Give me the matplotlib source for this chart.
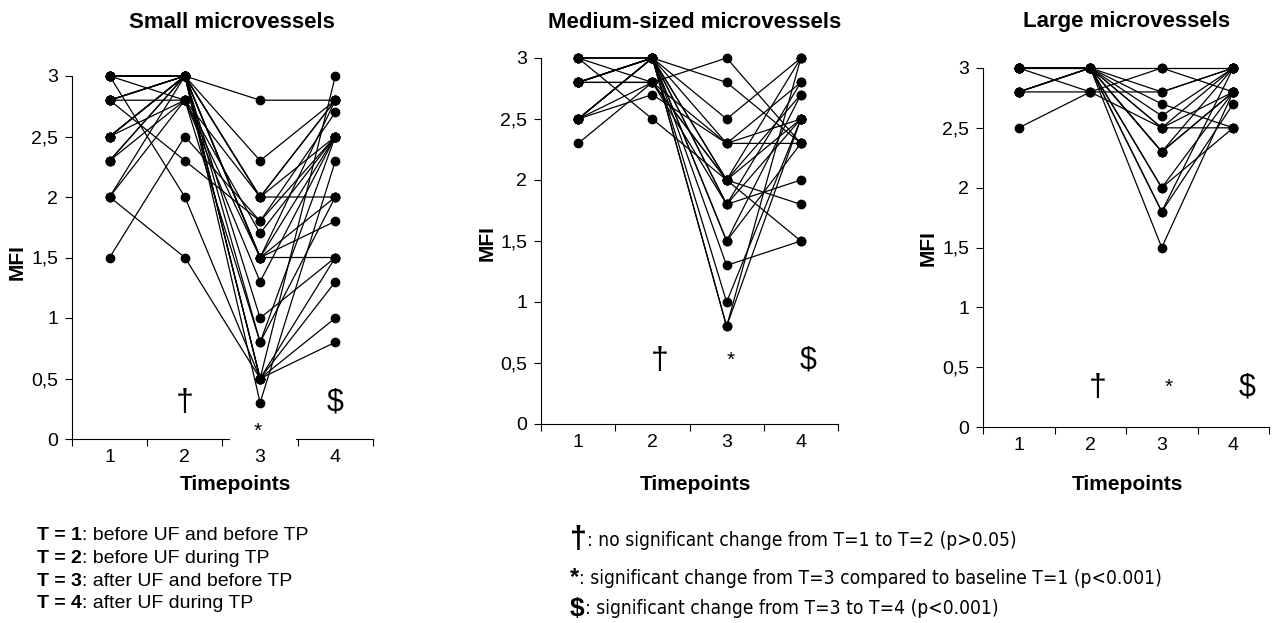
import numpy as np
import matplotlib.pyplot as plt
from matplotlib import font_manager
from matplotlib.patches import Rectangle

plt.rcParams['font.family'] = ['Liberation Sans', 'DejaVu Sans']

# timepoints
timepoints = [1, 2, 3, 4]
ytick_vals = [0, 0.5, 1, 1.5, 2, 2.5, 3]
ytick_labels = ['0', '0,5', '1', '1,5', '2', '2,5', '3']

# MFI per patient (T1, T2, T3, T4), small microvessels
small = [
    [3.0, 3.0, 2.8, 2.8],
    [3.0, 2.8, 2.0, 2.0],
    [3.0, 2.0, 0.5, 1.5],
    [2.8, 3.0, 2.3, 2.8],
    [2.8, 2.8, 1.5, 2.5],
    [2.8, 2.3, 1.8, 2.5],
    [2.5, 3.0, 2.0, 2.8],
    [2.5, 3.0, 1.5, 2.0],
    [2.5, 2.8, 1.7, 2.5],
    [2.3, 3.0, 1.5, 2.8],
    [2.3, 2.8, 1.3, 2.5],
    [2.0, 3.0, 1.0, 1.5],
    [2.0, 1.5, 0.5, 1.3],
    [1.5, 2.5, 1.8, 2.7],
    [3.0, 3.0, 2.0, 2.5],
    [2.8, 3.0, 1.5, 1.5],
    [2.5, 3.0, 0.8, 2.5],
    [3.0, 3.0, 0.5, 1.0],
    [2.8, 3.0, 0.5, 0.8],
    [2.5, 3.0, 0.3, 2.3],
    [3.0, 3.0, 1.5, 1.8],
    [2.8, 3.0, 0.5, 3.0],
    [2.3, 3.0, 2.0, 2.8],
    [2.0, 2.8, 0.8, 2.0],
]

# medium-sized microvessels
medium = [
    [3.0, 3.0, 2.0, 3.0],
    [3.0, 2.5, 2.0, 1.5],
    [2.8, 3.0, 2.8, 2.3],
    [2.8, 2.8, 3.0, 2.3],
    [2.8, 3.0, 2.5, 3.0],
    [2.8, 3.0, 1.8, 2.0],
    [2.5, 3.0, 2.3, 2.3],
    [2.5, 2.8, 2.0, 2.7],
    [2.5, 2.7, 2.3, 2.8],
    [2.5, 3.0, 1.5, 2.7],
    [2.3, 2.8, 1.8, 2.5],
    [2.8, 3.0, 1.3, 1.5],
    [3.0, 3.0, 1.0, 2.5],
    [2.5, 3.0, 0.8, 3.0],
    [2.8, 3.0, 0.8, 2.5],
    [3.0, 2.8, 2.0, 1.8],
    [2.8, 3.0, 2.0, 2.5],
    [2.5, 3.0, 1.8, 2.8],
    [2.8, 2.8, 2.3, 2.5],
    [3.0, 3.0, 1.5, 2.3],
]

# large microvessels
large = [
    [3.0, 3.0, 3.0, 3.0],
    [3.0, 2.8, 3.0, 2.8],
    [2.8, 2.8, 2.8, 3.0],
    [2.8, 3.0, 2.7, 2.5],
    [2.5, 2.8, 2.5, 2.5],
    [3.0, 3.0, 2.6, 3.0],
    [3.0, 3.0, 2.5, 2.8],
    [3.0, 3.0, 2.3, 3.0],
    [2.8, 3.0, 2.3, 2.8],
    [3.0, 3.0, 2.0, 2.8],
    [3.0, 3.0, 1.8, 3.0],
    [2.8, 3.0, 1.8, 2.7],
    [3.0, 3.0, 1.5, 2.8],
    [3.0, 3.0, 2.8, 3.0],
    [3.0, 3.0, 2.5, 3.0],
    [2.8, 3.0, 2.0, 2.5],
    [3.0, 3.0, 2.3, 2.8],
]

t_desc = ['before UF and before TP', 'before UF during TP',
          'after UF and before TP', 'after UF during TP']
sig_symbols = ['†', '*', '$']
sig_desc = [': no significant change from T=1 to T=2 (p>0.05)',
            ': significant change from T=3 compared to baseline T=1 (p<0.001)',
            ': significant change from T=3 to T=4 (p<0.001)']

W, H = 1274, 623
fig = plt.figure(figsize=(W / 100, H / 100), dpi=100)

TICK_FS = 14
LAB_FS = 15


def px_axes(left, top, right, bottom):
    return fig.add_axes([left / W, 1 - bottom / H, (right - left) / W, (bottom - top) / H])


def draw_panel(ax, data, title_x, title, ylab_x, ylab_y, xlab_x):
    for row in data:
        ax.plot(timepoints, row, color='black', lw=0.9, marker='o', ms=6,
                mfc='black', mec='black', clip_on=False)
    ax.set_xlim(0.5, 4.5)
    ax.set_ylim(0, 3)
    ax.set_xticks([0.5, 1.5, 2.5, 3.5, 4.5])
    ax.set_xticklabels([])
    ax.set_xticks(timepoints, minor=True)
    ax.set_xticklabels([str(t) for t in timepoints], minor=True, fontsize=TICK_FS)
    ax.tick_params(axis='x', which='minor', length=0, pad=7)
    ax.tick_params(axis='x', which='major', length=5, direction='out')
    ax.set_yticks(ytick_vals)
    ax.set_yticklabels(ytick_labels, fontsize=TICK_FS)
    ax.tick_params(axis='y', length=5, direction='out', pad=5)
    for s in ['top', 'right']:
        ax.spines[s].set_visible(False)
    fig.text(title_x / W, 1 - 22 / H, title, ha='center', va='center',
             fontsize=16, fontweight='bold')
    fig.text(ylab_x / W, 1 - ylab_y / H, 'MFI', ha='center', va='center',
             rotation=90, fontsize=LAB_FS, fontweight='bold')
    fig.text(xlab_x / W, 1 - 484 / H, 'Timepoints', ha='center', va='center',
             fontsize=LAB_FS, fontweight='bold')


ax1 = px_axes(72, 76, 373, 439)
draw_panel(ax1, small, 232, 'Small microvessels', 17, 262, 235)
ax1.add_patch(Rectangle((2.6, -0.05), 0.88, 0.2, facecolor='white',
                        edgecolor='none', clip_on=False, zorder=5))
ax1.text(2.0, 0.3, '†', ha='center', va='center', fontsize=23)
ax1.text(2.97, 0.06, '*', ha='center', va='center', fontsize=15, zorder=6, clip_on=False)
ax1.text(4.0, 0.3, '$', ha='center', va='center', fontsize=22)

ax2 = px_axes(541, 58, 838, 424)
draw_panel(ax2, medium, 695, 'Medium-sized microvessels', 487, 243, 695)
ax2.text(2.1, 0.52, '†', ha='center', va='center', fontsize=23)
ax2.text(3.06, 0.52, '*', ha='center', va='center', fontsize=15)
ax2.text(4.1, 0.52, '$', ha='center', va='center', fontsize=22)

ax3 = px_axes(983, 68, 1269, 427)
draw_panel(ax3, large, 1127, 'Large microvessels', 928, 248, 1127)
ax3.text(2.11, 0.33, '†', ha='center', va='center', fontsize=23)
ax3.text(3.1, 0.33, '*', ha='center', va='center', fontsize=15)
ax3.text(4.19, 0.33, '$', ha='center', va='center', fontsize=22)

# timepoint legend
for i, d in enumerate(t_desc):
    y = 1 - (536 + i * 22.5) / H
    t = fig.text(37 / W, y, f'T = {i + 1}', fontsize=14, fontweight='bold', va='center')
    fig.canvas.draw()
    bb = t.get_window_extent()
    fig.text(bb.x1 / W, y, f': {d}', fontsize=14, va='center')

# significance legend, narrow font if there is one
names = {f.name for f in font_manager.fontManager.ttflist}
if 'Liberation Sans Narrow' in names:
    narrow = dict(family='Liberation Sans Narrow')
else:
    narrow = dict(family='DejaVu Sans', stretch='condensed')
sym_fs = [22, 17, 19]
sig_y = [540, 578, 609]
for i, (sym, txt) in enumerate(zip(sig_symbols, sig_desc)):
    y = 1 - sig_y[i] / H
    s = fig.text(570 / W, y, sym, fontsize=sym_fs[i], fontweight='bold', va='center')
    fig.canvas.draw()
    bb = s.get_window_extent()
    fig.text(bb.x1 / W, y, txt, fontsize=13.8, va='center', **narrow)

fig.savefig('out.png', dpi=100)
